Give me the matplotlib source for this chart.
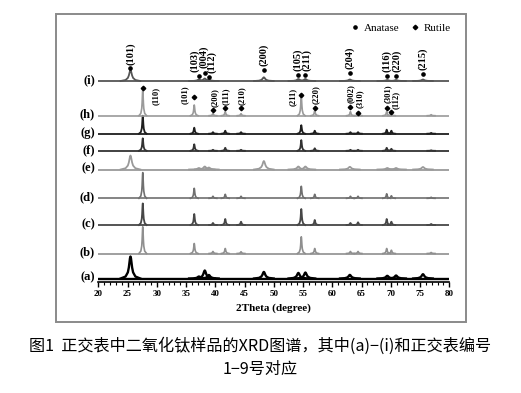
import matplotlib
matplotlib.use('Agg')
import matplotlib.pyplot as plt
from matplotlib.patches import Rectangle
from matplotlib.lines import Line2D

# ---------------- data ----------------
sample_labels = ['(a)', '(b)', '(c)', '(d)', '(e)', '(f)', '(g)', '(h)', '(i)']
sample_phase = ['A', 'R', 'R', 'R', 'A', 'R', 'R', 'R', 'A']

anatase_pos = [25.5, 37.2, 38.2, 38.9, 48.3, 54.2, 55.4, 63.0, 69.4, 70.9, 75.5]
anatase_hkl = ['(101)', '(103)', '(004)', '(112)', '(200)', '(105)', '(211)',
               '(204)', '(116)', '(220)', '(215)']
rutile_pos = [27.6, 36.4, 39.6, 41.7, 44.4, 54.7, 57.0, 63.1, 64.4, 69.3, 70.1, 76.9]
rutile_hkl = ['(110)', '(101)', '(200)', '(111)', '(210)', '(211)', '(220)',
              '(002)', '(310)', '(301)', '(112)', '']

# peak intensities (a.u.) for each sample
int_a = [22, 2, 8, 3.5, 6.6, 5.6, 6, 3.6, 2.7, 3, 4.3]
int_b = [26.7, 10, 2, 5, 1.7, 16.7, 5, 2, 2, 5, 3.3, 1]
int_c = [21.6, 11, 2, 6, 3.3, 16, 5, 2, 2.7, 6, 3.3, 1]
int_d = [25.7, 10, 2, 4, 2, 12, 4, 2, 2, 4.5, 2.5, 1]
int_e = [14, 1.5, 3, 2, 8.5, 3, 3, 2.7, 1.5, 1.5, 2.5]
int_f = [12.5, 6.5, 1, 3, 1, 10.7, 2.5, 1, 1, 3, 2, 0.5]
int_g = [18, 6, 1.5, 3, 1.5, 8.5, 3, 1.5, 1.5, 4, 3, 0.8]
int_h = [25.7, 10.7, 2, 4, 2, 19, 5, 4, 3, 4, 2.5, 1]
int_i = [11, 1.5, 2.5, 1.5, 3.7, 2, 2, 1.5, 1, 1, 1.5]
intensities = [int_a, int_b, int_c, int_d, int_e, int_f, int_g, int_h, int_i]

x_ticks = [20, 25, 30, 35, 40, 45, 50, 55, 60, 65, 70, 75, 80]
x_label = '2Theta (degree)'
legend_labels = ['Anatase', 'Rutile']
caption1 = '图1  正交表中二氧化钛样品的XRD图谱，其中(a)−(i)和正交表编号'
caption2 = '1−9号对应'

# ---------------- layout / style ----------------
W, H = 521, 393
AX_L, AX_R, AX_B, AX_T = 98.3, 449.3, 282.3, 15.0   # pixel box of axes
baseline_px = [278.5, 253.5, 225.0, 198.3, 169.5, 150.8, 133.7, 115.7, 81.0]
offsets = [AX_B - b for b in baseline_px]
colors = ['#000000', '#8f8f8f', '#474747', '#707070', '#9a9a9a',
          '#333333', '#1e1e1e', '#9a9a9a', '#555555']
lws = [1.7, 1.2, 1.3, 1.2, 1.3, 1.3, 1.3, 1.2, 1.3]
# peak shape template (Lorentz-like), in units of half width
prof_dx = [-6, -3, -1.6, -1.0, -0.6, -0.3, 0, 0.3, 0.6, 1.0, 1.6, 3, 6]
prof_y = [0.0, 0.09, 0.28, 0.5, 0.74, 0.92, 1, 0.92, 0.74, 0.5, 0.28, 0.09, 0.0]
half_w = {'A': 0.28, 'R': 0.11}

serif = ['Liberation Serif', 'DejaVu Serif']
cjk = ['Noto Sans CJK SC', 'DejaVu Sans']
plt.rcParams['font.family'] = serif

fig = plt.figure(figsize=(W / 100, H / 100), dpi=100)
ax = fig.add_axes([AX_L / W, (H - AX_B) / H, (AX_R - AX_L) / W, (AX_B - AX_T) / H])
ax.set_xlim(20, 80)
ax.set_ylim(0, AX_B - AX_T)


def ypx(p):
    return AX_B - p


for k, (lab, ph, ints) in enumerate(zip(sample_labels, sample_phase, intensities)):
    pos = anatase_pos if ph == 'A' else rutile_pos
    off = offsets[k]
    w = half_w[ph]
    ax.plot([20, 80], [off, off], color=colors[k], lw=lws[k], solid_capstyle='butt')
    for p, h in zip(pos, ints):
        xs = [p + d * w for d in prof_dx]
        ys = [off + h * v for v in prof_y]
        ax.plot(xs, ys, color=colors[k], lw=lws[k], solid_joinstyle='round')
    ax.text(19.4, off + 1, lab, ha='right', va='center', fontsize=9,
            fontweight='bold', clip_on=False)

# ---- anatase annotations on (i) ----
a_dot_px = [68.3, 76, 72.7, 77.3, 70, 75, 75, 72.7, 76, 76, 74]
a_lab_x = [25.5, 36.55, 37.95, 39.35, 48.3, 54.05, 55.65, 63.0, 69.35, 70.95, 75.5]
a_lab_bot = [65, 72, 68, 73, 66, 71, 71, 69, 72, 72, 70]
for p, hkl, dp, lx, lb in zip(anatase_pos, anatase_hkl, a_dot_px, a_lab_x, a_lab_bot):
    ax.plot([p], [ypx(dp)], marker='o', ms=2.3, color='black', ls='none')
    ax.text(lx, ypx(lb), hkl, rotation=90, ha='center', va='bottom',
            fontsize=7.5, fontweight='bold')

# ---- rutile annotations on (h) ----
r_dia_px = [88.3, 97.3, 110, 108, 108, 95, 108, 107, 112.7, 108, 111.7]
r_lab_x = [29.9, 34.8, 39.95, 41.8, 44.5, 53.3, 57.1, 63.15, 64.75, 69.55, 70.85]
r_lab_c = [96, 95, 98, 96.5, 96, 97, 95, 94, 99, 94, 100]
for p, hkl, dp, lx, lc in zip(rutile_pos, rutile_hkl, r_dia_px, r_lab_x, r_lab_c):
    ax.plot([p], [ypx(dp)], marker='D', ms=2.3, color='black', ls='none')
    ax.text(lx, ypx(lc), hkl, rotation=90, ha='center', va='center',
            fontsize=6.2, fontweight='bold')

# ---- legend ----
handles = [Line2D([], [], marker='o', ms=2.3, color='black', ls='none'),
           Line2D([], [], marker='D', ms=2.3, color='black', ls='none')]
ax.legend(handles, legend_labels, ncol=2, frameon=False, loc='center right',
          bbox_to_anchor=((451 - AX_L) / (AX_R - AX_L), (AX_B - 28) / (AX_B - AX_T)),
          fontsize=8, handlelength=0.8, handletextpad=0.4, columnspacing=1.0,
          borderaxespad=0, borderpad=0)

# ---- axes styling ----
for s in ['left', 'right', 'top']:
    ax.spines[s].set_visible(False)
ax.spines['bottom'].set_linewidth(1.2)
ax.set_yticks([])
ax.set_xticks(x_ticks)
ax.set_xticks(range(20, 81), minor=True)
ax.tick_params(axis='x', which='major', direction='out', length=3.5, width=1,
               labelsize=6.5, pad=2)
ax.tick_params(axis='x', which='minor', direction='out', length=2.2, width=0.8)
for t in ax.get_xticklabels():
    t.set_fontweight('bold')
ax.set_xlabel(x_label, fontsize=8, fontweight='bold', labelpad=4)
ax.patch.set_alpha(0)

# ---- outer frame ----
fig.patches.append(Rectangle((56 / W, (H - 322) / H), 410 / W, 308 / H,
                             transform=fig.transFigure, fill=False,
                             edgecolor='#8a8a8a', lw=1.4))

# ---- caption ----
fig.text(0.5, 1 - 346 / H, caption1, ha='center', va='center', fontsize=11.6,
         family=cjk, fontweight='medium')
fig.text(0.5, 1 - 369 / H, caption2, ha='center', va='center', fontsize=11.6,
         family=cjk, fontweight='medium')

fig.savefig('out.png', dpi=100)
